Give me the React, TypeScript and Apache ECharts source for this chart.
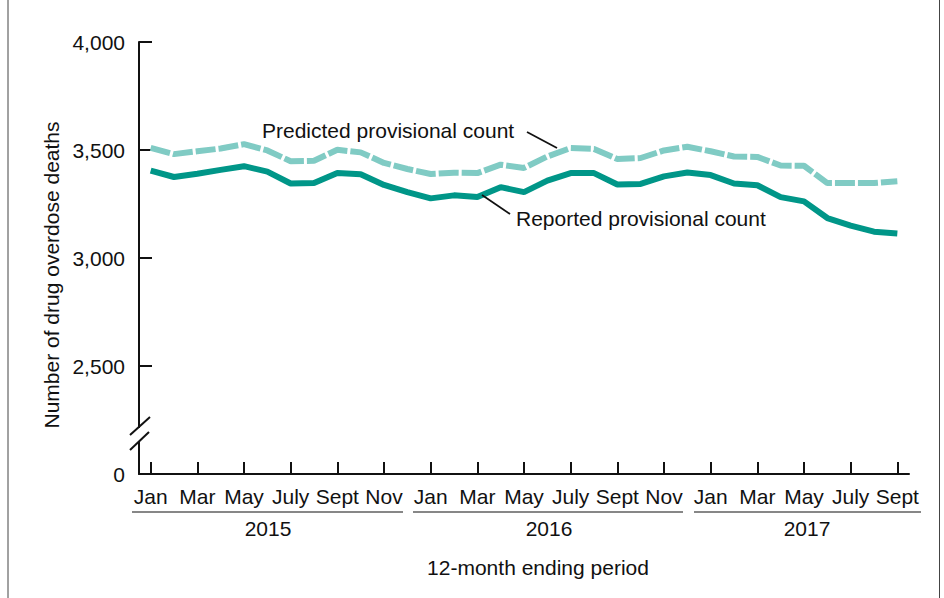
import React, { useEffect, useRef } from "react";
import * as echarts from "echarts";

const monthNames = ["Jan", "Feb", "Mar", "Apr", "May", "June", "July", "Aug", "Sept", "Oct", "Nov", "Dec"];
const years = [2015, 2016, 2017];
const categories: string[] = [];
for (const y of years) {
  for (const m of monthNames) {
    if (y === 2017 && monthNames.indexOf(m) > 8) break;
    categories.push(m + " " + y);
  }
}

const reported = [3405, 3375, 3390, 3408, 3425, 3400, 3345, 3347, 3393, 3388, 3338, 3305,
  3276, 3290, 3282, 3328, 3305, 3358, 3393, 3393, 3340, 3343, 3378, 3396,
  3384, 3345, 3337, 3282, 3262, 3185, 3150, 3122, 3113];
const predicted = [3510, 3481, 3494, 3507, 3527, 3498, 3448, 3450, 3501, 3489, 3440, 3412,
  3389, 3395, 3393, 3432, 3417, 3470, 3509, 3505, 3458, 3463, 3498, 3515,
  3494, 3470, 3468, 3428, 3427, 3347, 3347, 3347, 3355];

const yTicks = [2000, 2500, 3000, 3500, 4000];
const yearLabels = ["2015", "2016", "2017"];

const FONT = '"Liberation Sans", Arial, sans-serif';

export default function App() {
  const ref = useRef<HTMLDivElement>(null);
  useEffect(() => {
    if (!ref.current) return;
    const chart = echarts.init(ref.current, null, { renderer: "svg" });
    const txt = (text: string, x: number, y: number, align = "center", size = 21) => ({
      type: "text",
      x,
      y,
      style: { text, textAlign: align, textVerticalAlign: "middle", font: `${size}px ${FONT}`, fill: "#111" },
      z: 10,
    });
    const ln = (x1: number, y1: number, x2: number, y2: number, w = 1.5, c = "#111") => ({
      type: "line",
      shape: { x1, y1, x2, y2 },
      style: { stroke: c, lineWidth: w },
      z: 11,
    });
    chart.setOption({
      animation: false,
      backgroundColor: "#fff",
      grid: { left: 139, right: 35, top: 42, bottom: 124, containLabel: false },
      xAxis: {
        type: "category",
        data: categories,
        boundaryGap: true,
        axisLine: { lineStyle: { color: "#111", width: 2 } },
        axisTick: { show: true, inside: true, length: 12, alignWithLabel: true, interval: 1, lineStyle: { color: "#111", width: 2 } },
        axisLabel: {
          interval: 1,
          margin: 12,
          color: "#111",
          fontFamily: FONT,
          fontSize: 21,
          formatter: (v: string) => v.split(" ")[0],
        },
        splitLine: { show: false },
      },
      yAxis: {
        type: "value",
        min: 2000,
        max: 4000,
        interval: 500,
        axisLine: { show: true, lineStyle: { color: "#111", width: 2 } },
        axisTick: { show: true, inside: true, length: 13, lineStyle: { color: "#111", width: 2 } },
        axisLabel: {
          margin: 14,
          color: "#111",
          fontFamily: FONT,
          fontSize: 21,
          formatter: (v: number) => (yTicks.indexOf(v) === 0 ? "0" : v.toLocaleString("en-US")),
        },
        splitLine: { show: false },
      },
      series: [
        {
          name: "Predicted provisional count",
          type: "line",
          data: predicted,
          symbol: "none",
          lineStyle: { color: "#80CBC4", width: 6, type: [20, 3], cap: "butt" },
          z: 2,
        },
        {
          name: "Reported provisional count",
          type: "line",
          data: reported,
          symbol: "none",
          lineStyle: { color: "#009688", width: 6, cap: "butt" },
          z: 3,
        },
      ],
      graphic: [
        ln(8, 0, 8, 598, 1, "#444"),
        ln(939.5, 0, 939.5, 598, 1, "#444"),
        { type: "rect", shape: { x: 134, y: 428, width: 10, height: 13 }, style: { fill: "#fff" }, z: 10 },
        ln(130, 435, 150, 417, 2),
        ln(130, 450, 149, 432, 2),
        txt("Predicted provisional count", 262, 130, "left"),
        ln(527, 132, 557, 148, 1.8),
        txt("Reported provisional count", 516, 218, "left"),
        ln(482, 195, 510, 214, 1.8),
        ln(132, 512, 403, 512, 1.2),
        ln(413, 512, 683, 512, 1.2),
        ln(694, 512, 921, 512, 1.2),
        txt(yearLabels[0], 268, 528),
        txt(yearLabels[1], 549, 528),
        txt(yearLabels[2], 807, 528),
        txt("12-month ending period", 538, 567),
        {
          type: "text",
          x: 51,
          y: 275,
          rotation: Math.PI / 2,
          style: { text: "Number of drug overdose deaths", textAlign: "center", textVerticalAlign: "middle", font: `21px ${FONT}`, fill: "#111" },
          z: 10,
        },
      ],
    });
    return () => chart.dispose();
  }, []);
  return <div ref={ref} style={{ position: "fixed", left: 0, top: 0, width: 944, height: 598 }} />;
}
